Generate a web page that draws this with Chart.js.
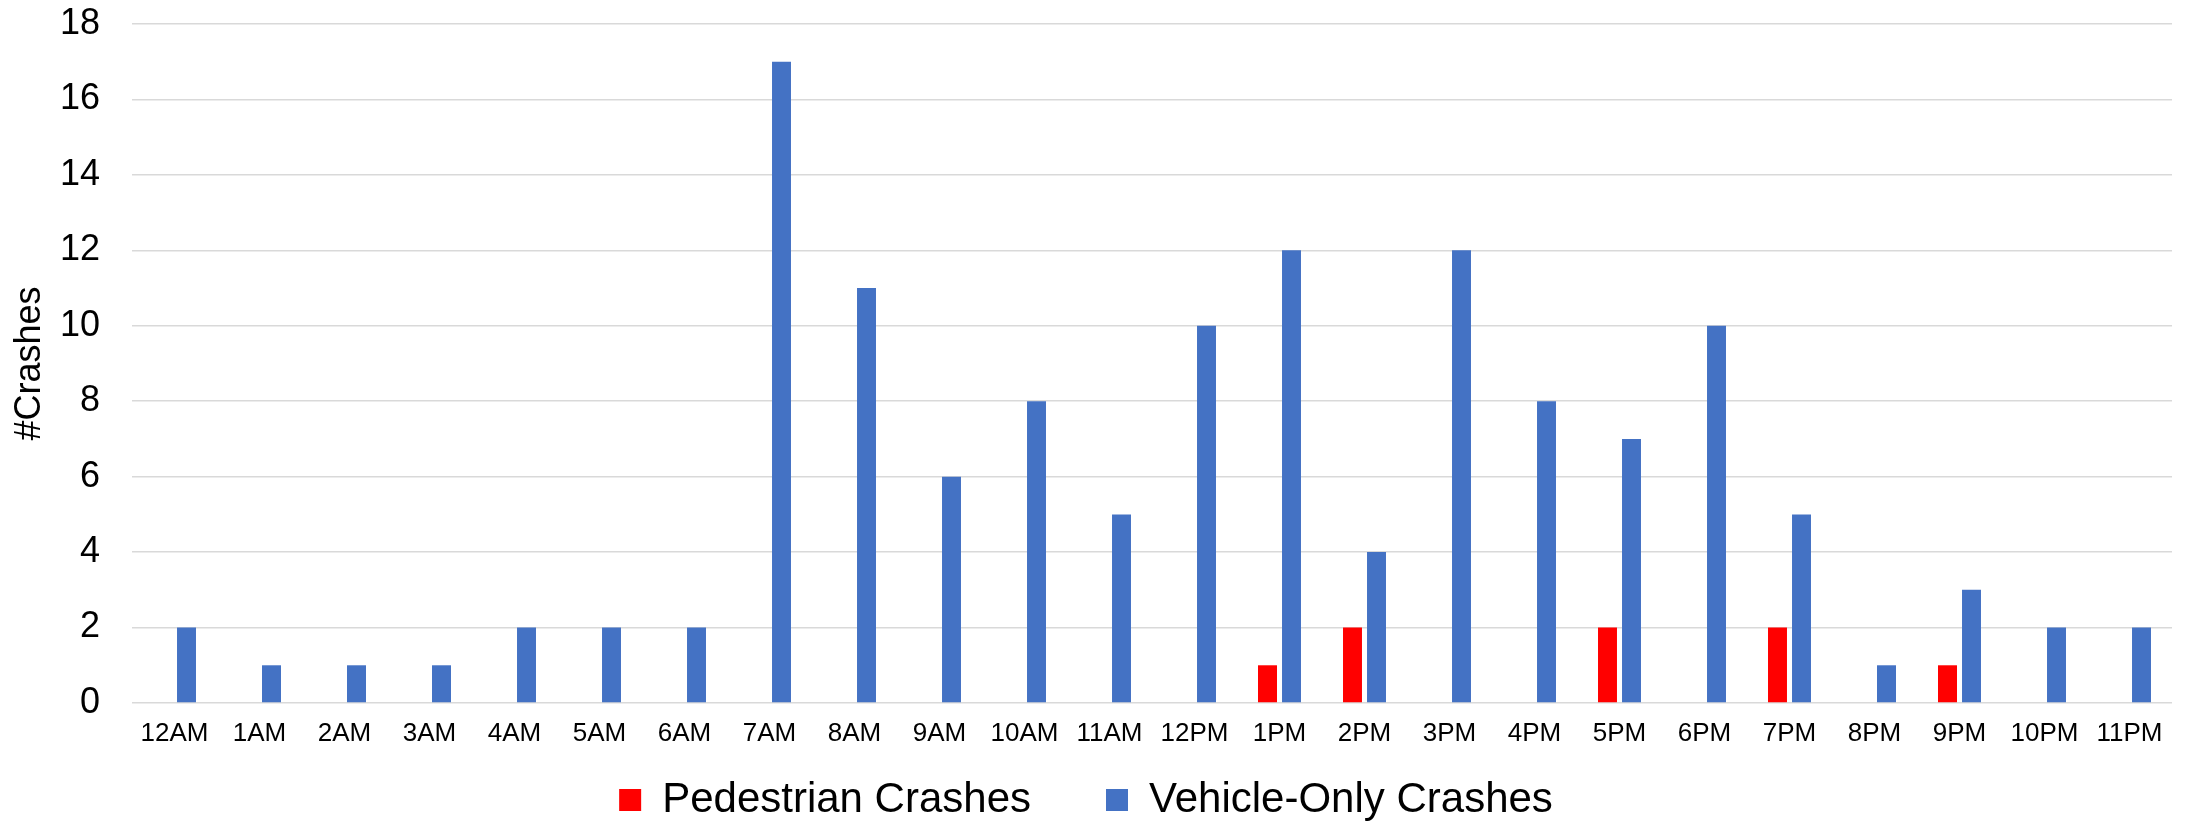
<!DOCTYPE html>
<html>
<head>
<meta charset="utf-8">
<script src="https://cdn.jsdelivr.net/npm/chart.js@4"></script>
<style>
  html, body { margin: 0; padding: 0; background: #fff; }
  canvas { display: block; }
</style>
</head>
<body>
<canvas id="barChart" width="2186" height="822"></canvas>
<script>
var HOURS = ['12AM', '1AM', '2AM', '3AM', '4AM', '5AM', '6AM', '7AM', '8AM', '9AM', '10AM', '11AM',
    '12PM', '1PM', '2PM', '3PM', '4PM', '5PM', '6PM', '7PM', '8PM', '9PM', '10PM', '11PM'];

var pedestrianCrashes = [0, 0, 0, 0, 0, 0, 0, 0, 0, 0, 0, 0,
    0, 1, 2, 0, 0, 2, 0, 2, 0, 1, 0, 0];

var vehicleOnlyCrashes = [2, 1, 1, 1, 2, 2, 2, 17, 11, 6, 8, 5,
    10, 12, 4, 12, 8, 7, 10, 5, 1, 3, 2, 2];

var yTicks = [0, 2, 4, 6, 8, 10, 12, 14, 16, 18];

var FONT = '"Liberation Sans", Arial, sans-serif';

var barChartData = {
    labels: HOURS,
    datasets: [{
            label: 'Pedestrian Crashes',
            backgroundColor: '#FF0000',
            borderWidth: 0,
            data: pedestrianCrashes,
            barPercentage: 0.79,
            categoryPercentage: 0.565
        },
        {
            label: 'Vehicle-Only Crashes',
            backgroundColor: '#4472C4',
            borderWidth: 0,
            data: vehicleOnlyCrashes,
            barPercentage: 0.79,
            categoryPercentage: 0.565
        }
    ]
};

var ctx = document.getElementById('barChart').getContext('2d');
window.myBar = new Chart(ctx, {
    type: 'bar',
    data: barChartData,
    options: {
        responsive: false,
        animation: false,
        devicePixelRatio: 1,
        layout: {
            padding: { left: 0, right: 14, top: 24, bottom: 0 }
        },
        plugins: {
            legend: {
                position: 'bottom',
                maxHeight: 118,
                labels: {
                    boxWidth: 22,
                    boxHeight: 22,
                    padding: 75,
                    color: '#000',
                    font: { family: FONT, size: 42 }
                }
            },
            tooltip: { enabled: false }
        },
        scales: {
            x: {
                afterFit: function (axis) {
                    // thin box, tick labels hang below it over the legend's top padding
                    axis.height = 1;
                    axis._computeLabelArea = function () { return undefined; };
                },
                grid: { display: false, drawTicks: false },
                border: { display: false },
                ticks: {
                    color: '#000',
                    padding: 15,
                    maxRotation: 0,
                    autoSkip: false,
                    font: { family: FONT, size: 26 }
                }
            },
            y: {
                min: 0,
                max: 18,
                afterBuildTicks: function (axis) {
                    axis.ticks = yTicks.map(function (v) { return { value: v }; });
                },
                afterFit: function (axis) {
                    axis.width = 132;
                    axis.paddingTop = 0;
                    axis.paddingBottom = 0;
                },
                grid: { color: '#D9D9D9', lineWidth: 1.5, drawTicks: false },
                border: { display: false },
                ticks: {
                    color: '#000',
                    padding: 32,
                    font: { family: FONT, size: 36 }
                },
                title: {
                    display: true,
                    text: '#Crashes',
                    color: '#000',
                    padding: { top: 8, bottom: 0 },
                    font: { family: FONT, size: 36 }
                }
            }
        }
    }
});
</script>
</body>
</html>
